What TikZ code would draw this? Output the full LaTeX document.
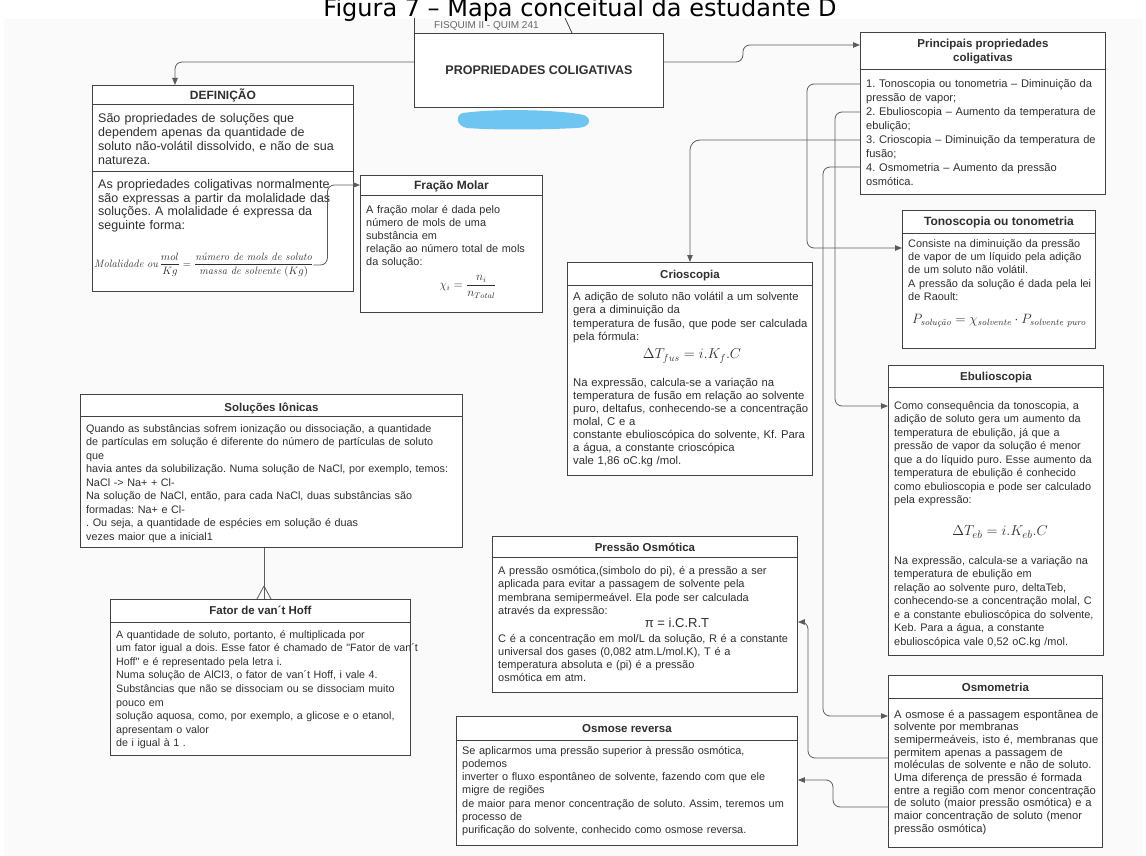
\documentclass[tikz,border=0pt]{standalone}
\usepackage{amsmath}
\usepackage{graphicx}
\usepackage{fontspec}
\usetikzlibrary{arrows.meta,calc}
\newfontfamily\lsans{Liberation Sans}
\newfontfamily\dejavu{DejaVu Sans}
\definecolor{ink}{HTML}{2F2F2F}
\definecolor{edge}{HTML}{424242}
\definecolor{wire}{HTML}{5C5C5C}
\definecolor{smear}{HTML}{6EC5F2}
\definecolor{paper}{HTML}{FAFAFA}
\frenchspacing

\tikzset{
  box/.style={draw=edge, line width=0.9pt, fill=white, inner sep=0pt, anchor=north west},
  divider/.style={draw=edge, line width=0.8pt},
  head/.style={font=\lsans\bfseries\fontsize{#1}{#1}\selectfont, text=ink, anchor=base, inner sep=0pt},
  body/.style n args={3}{font=\lsans\fontsize{#1}{#2}\selectfont, text=ink, align=left,
    text width=#3, anchor=base west, inner sep=0pt},
  fml/.style={font=\rmfamily\fontsize{#1}{#1}\selectfont, text=ink, inner sep=0pt},
  link/.style={draw=wire, line width=0.8pt, rounded corners=7pt},
  arrowed/.style={-{Triangle[length=7pt,width=5.5pt]}},
}

\begin{document}
\begin{tikzpicture}[x=1pt,y=-1pt]
\useasboundingbox (0,0) rectangle (1146,856);
\clip (0,0) rectangle (1146,856);
\fill[white] (0,0) rectangle (1146,856);
\fill[paper] (4,19) rectangle (1143,856);

% caption
\node[font=\dejavu\fontsize{24}{26}\selectfont, anchor=base, inner sep=0pt] (caption)
  at (580,17) {Figura 7 – Mapa conceitual da estudante D};

% ---------- central topic ----------
\node[box, minimum width=249pt, minimum height=74pt] (main) at (414,33) {};
\draw[divider] (main.north west) -- ++(0,-15);
\draw[divider] ($(main.north west)+(158,0)$) -- ++(-7,-15);
\node[font=\lsans\fontsize{10}{10}\selectfont, text=black!60, anchor=base west, inner sep=0pt]
  (course) at (434,28.5) {FISQUIM II - QUIM 241};
\node[head=12.5] (mainT) at (main.center |- 0,74.5) {PROPRIEDADES COLIGATIVAS};
\fill[smear] (463,113) .. controls (500,108) and (560,110) .. (584,115)
  .. controls (593,119) and (590,128) .. (576,128)
  .. controls (540,130) and (492,130) .. (467,128)
  .. controls (456,126) and (455,115) .. (463,113);

% ---------- Definição ----------
\node[box, minimum width=261pt, minimum height=206pt] (def) at (92,85) {};
\draw[divider] (def.north west |- 0,104.5) -- (def.north east |- 0,104.5);
\draw[divider] (def.north west |- 0,171) -- (def.north east |- 0,171);
\node[head=12] (defT) at (def.north |- 0,99.5) {DEFINIÇÃO};
\node[body={12.5}{14}{300pt}] (defA) at (98,123)
  {São propriedades de soluções que\\
   dependem apenas da quantidade de\\
   soluto não-volátil dissolvido, e não de sua\\
   natureza.};
\node[body={12.5}{14}{300pt}] (defB) at (98,188)
  {As propriedades coligativas normalmente\\
   são expressas a partir da molalidade das\\
   soluções. A molalidade  é expressa da\\
   seguinte forma:};
\node[fml=11, anchor=west] (defF) at (94,265)
  {\resizebox{219pt}{!}{$\mathit{Molalidade\ ou}\,{\displaystyle\frac{mol}{Kg}} =
   {\displaystyle\frac{\textit{número de mols de soluto}}{\textit{massa de solvente }(Kg)}}$}};

% ---------- Fração Molar ----------
\node[box, minimum width=182pt, minimum height=137pt] (frac) at (360,175) {};
\draw[divider] (frac.north west |- 0,195.5) -- (frac.north east |- 0,195.5);
\node[head=12] (fracT) at (frac.north |- 0,189.5) {Fração Molar};
\node[body={10.9}{13.2}{220pt}] (fracA) at (366,213)
  {A fração molar é dada pelo\\
   número de mols de uma\\
   substância em\\
   relação ao número total de mols\\
   da solução:};
\node[fml=12] (fracF) at (468,287) {$\chi_i = \dfrac{n_i}{n_{Total}}$};

% ---------- Principais propriedades ----------
\node[box, minimum width=245pt, minimum height=162pt] (prin) at (860,32) {};
\draw[divider] (prin.north west |- 0,69) -- (prin.north east |- 0,69);
\node[head=11.5] (prinT1) at (prin.north |- 0,47.5) {Principais propriedades};
\node[head=11.5] (prinT2) at (prin.north |- 0,61.5) {coligativas};
\node[body={11.1}{13.9}{280pt}] (prinA) at (866,88)
  {1. Tonoscopia ou tonometria – Diminuição da\\
   pressão de vapor;\\
   2. Ebulioscopia – Aumento da temperatura de\\
   ebulição;\\
   3. Crioscopia – Diminuição da temperatura de\\
   fusão;\\
   4. Osmometria – Aumento da pressão\\
   osmótica.};

% ---------- Tonoscopia ----------
\node[box, minimum width=193pt, minimum height=138pt] (tono) at (902,210) {};
\draw[divider] (tono.north west |- 0,233) -- (tono.north east |- 0,233);
\node[head=12] (tonoT) at (tono.north |- 0,225) {Tonoscopia ou tonometria};
\node[body={10.9}{13.2}{230pt}] (tonoA) at (908,247.5)
  {Consiste na diminuição da pressão\\
   de vapor de um líquido pela adição\\
   de um soluto não volátil.\\
   A pressão da solução é dada pela lei\\
   de Raoult:};
\node[fml=12] (tonoF) at (999,321)
  {\resizebox{174pt}{!}{$P_{\textit{solução}} = \chi_{\textit{solvente}}\cdot P_{\textit{solvente puro}}$}};

% ---------- Crioscopia ----------
\node[box, minimum width=245pt, minimum height=213pt] (crio) at (567,262) {};
\draw[divider] (crio.north west |- 0,285) -- (crio.north east |- 0,285);
\node[head=11.5] (crioT) at (crio.north |- 0,278) {Crioscopia};
\node[body={11.3}{13.5}{290pt}] (crioA) at (573,300)
  {A adição de soluto não volátil a um solvente\\
   gera a diminuição da\\
   temperatura de fusão, que pode ser calculada\\
   pela fórmula:};
\node[fml=14.5] (crioF) at (692,356) {$\Delta T_{fus} = i.K_f.C$};
\node[body={11.3}{13.1}{290pt}] (crioB) at (573,386)
  {Na expressão, calcula-se a variação na\\
   temperatura de fusão em relação ao solvente\\
   puro, deltafus, conhecendo-se a concentração\\
   molal, C e a\\
   constante ebulioscópica do solvente, Kf. Para\\
   a água, a constante crioscópica\\
   vale 1,86 oC.kg /mol.};

% ---------- Ebulioscopia ----------
\node[box, minimum width=215pt, minimum height=290pt] (ebul) at (888,365) {};
\draw[divider] (ebul.north west |- 0,387.5) -- (ebul.north east |- 0,387.5);
\node[head=11.5] (ebulT) at (ebul.north |- 0,380) {Ebulioscopia};
\node[body={10.9}{13.5}{250pt}] (ebulA) at (894,409)
  {Como consequência da tonoscopia, a\\
   adição de soluto gera um aumento da\\
   temperatura de ebulição, já que a\\
   pressão de vapor da solução é menor\\
   que a do líquido puro. Esse aumento da\\
   temperatura de ebulição é conhecido\\
   como ebulioscopia e pode ser calculado\\
   pela expressão:};
\node[fml=15] (ebulF) at (1000,532) {$\Delta T_{eb} = i.K_{eb}.C$};
\node[body={10.9}{13.5}{250pt}] (ebulB) at (894,564)
  {Na expressão, calcula-se a variação na\\
   temperatura de ebulição em\\
   relação ao solvente puro, deltaTeb,\\
   conhecendo-se a concentração molal, C\\
   e a constante ebulioscópica do solvente,\\
   Keb. Para a água, a constante\\
   ebulioscópica vale 0,52 oC.kg /mol.};

% ---------- Soluções Iônicas ----------
\node[box, minimum width=382pt, minimum height=153pt] (solu) at (80,394) {};
\draw[divider] (solu.north west |- 0,416) -- (solu.north east |- 0,416);
\node[head=11.5] (soluT) at (solu.north |- 0,411) {Soluções Iônicas};
\node[body={10.8}{13.5}{420pt}] (soluA) at (86,432)
  {Quando as substâncias sofrem ionização ou dissociação, a quantidade\\
   de partículas em solução é diferente do número de partículas de soluto\\
   que\\
   havia antes da solubilização. Numa solução de NaCl, por exemplo, temos:\\
   NaCl -> Na+ + Cl-\\
   Na solução de NaCl, então, para cada NaCl, duas substâncias são\\
   formadas: Na+ e Cl-\\
   . Ou seja, a quantidade de espécies em solução é duas\\
   vezes maior que a inicial1};

% ---------- Fator de van't Hoff ----------
\node[box, minimum width=300pt, minimum height=156pt] (fator) at (110,599) {};
\draw[divider] (fator.north west |- 0,622) -- (fator.north east |- 0,622);
\node[head=11.5] (fatorT) at (fator.north |- 0,614.5) {Fator de van´t Hoff};
\node[body={10.7}{13.6}{330pt}] (fatorA) at (116,638)
  {A quantidade de soluto, portanto, é multiplicada por\\
   um fator igual a dois. Esse fator é chamado de "Fator de van´t\\
   Hoff" e é representado pela letra i.\\
   Numa solução de AlCl3, o fator de van´t Hoff, i vale 4.\\
   Substâncias que não se dissociam ou se dissociam muito\\
   pouco em\\
   solução aquosa, como, por exemplo, a glicose e o etanol,\\
   apresentam o valor\\
   de i igual à 1 .};

% ---------- Pressão Osmótica ----------
\node[box, minimum width=305pt, minimum height=156pt] (pres) at (492,536) {};
\draw[divider] (pres.north west |- 0,557) -- (pres.north east |- 0,557);
\node[head=11.5] (presT) at (pres.north |- 0,551) {Pressão Osmótica};
\node[body={11}{13.5}{340pt}] (presA) at (498,574)
  {A pressão osmótica,(simbolo do pi), é a pressão a ser\\
   aplicada para evitar a passagem de solvente pela\\
   membrana semipermeável. Ela pode ser calculada\\
   através da expressão:};
\node[font=\lsans\fontsize{13}{13}\selectfont, text=ink, inner sep=0pt] (presF) at (677,623) {π = i.C.R.T};
\node[body={11}{13.2}{340pt}] (presB) at (498,642)
  {C é a concentração em mol/L da solução, R é a constante\\
   universal dos gases (0,082 atm.L/mol.K), T é a\\
   temperatura absoluta e (pi) é a pressão\\
   osmótica em atm.};

% ---------- Osmometria ----------
\node[box, minimum width=214pt, minimum height=172pt] (osmo) at (888,675) {};
\draw[divider] (osmo.north west |- 0,698) -- (osmo.north east |- 0,698);
\node[head=11.5] (osmoT) at (osmo.north |- 0,691) {Osmometria};
\node[body={11.2}{12.7}{250pt}] (osmoA) at (894,718)
  {A osmose é a passagem espontânea de\\
   solvente por membranas\\
   semipermeáveis, isto é, membranas que\\
   permitem apenas a passagem de\\
   moléculas de solvente e não de soluto.\\
   Uma diferença de pressão é formada\\
   entre a região com menor concentração\\
   de soluto (maior pressão osmótica) e a\\
   maior concentração de soluto (menor\\
   pressão osmótica)};

% ---------- Osmose reversa ----------
\node[box, minimum width=341pt, minimum height=129pt] (rev) at (456,716) {};
\draw[divider] (rev.north west |- 0,740) -- (rev.north east |- 0,740);
\node[head=11.5] (revT) at (rev.north |- 0,732.5) {Osmose reversa};
\node[body={10.9}{13.3}{380pt}] (revA) at (462,754)
  {Se aplicarmos uma pressão superior à pressão osmótica,\\
   podemos\\
   inverter o fluxo espontâneo de solvente, fazendo com que ele\\
   migre de regiões\\
   de maior para menor concentração de soluto. Assim, teremos um\\
   processo de\\
   purificação do solvente, conhecido como osmose reversa.};

% ---------- connectors ----------
\coordinate (mL) at (main.west |- 0,62);
\coordinate (mR) at (main.east |- 0,62);
\draw[link, arrowed] (mL) -| (def.north -| 175,0);
\draw[link, arrowed] (mR) -- ++(79,0) |- (prin.west |- 0,45);
\draw[link, arrowed] (defF.east) -- ++(14,0) |- (frac.west |- 0,185);

\coordinate (p1) at (prin.west |- 0,84);
\coordinate (p2) at (prin.west |- 0,112);
\coordinate (p3) at (prin.west |- 0,140);
\coordinate (p4) at (prin.west |- 0,167);
\draw[link, arrowed] (p1) -- ++(-53,0) |- (tono.west |- 0,248);
\draw[link, arrowed] (p2) -- ++(-25,0) |- (ebul.west |- 0,406);
\draw[link, arrowed, rounded corners=10pt] (p3) -| (crio.north);
\draw[link, arrowed] (p4) -- ++(-37,0) |- (osmo.west |- 0,716);

\draw[link, arrowed] (osmo.west |- 0,758) -- ++(-80,0) |- (pres.east |- 0,622);
\draw[link, arrowed] (osmo.west |- 0,807) -- ++(-55,0) |- (rev.east |- 0,780);

% one-to-many link between the ionic solutions and the van't Hoff factor
\coordinate (fork) at (264,586);
\draw[link] (solu.south -| fork) -- (fator.north -| fork);
\draw[link] (fork) -- ($(fator.north -| fork)+(-7,0)$);
\draw[link] (fork) -- ($(fator.north -| fork)+(7,0)$);
\end{tikzpicture}
\end{document}
